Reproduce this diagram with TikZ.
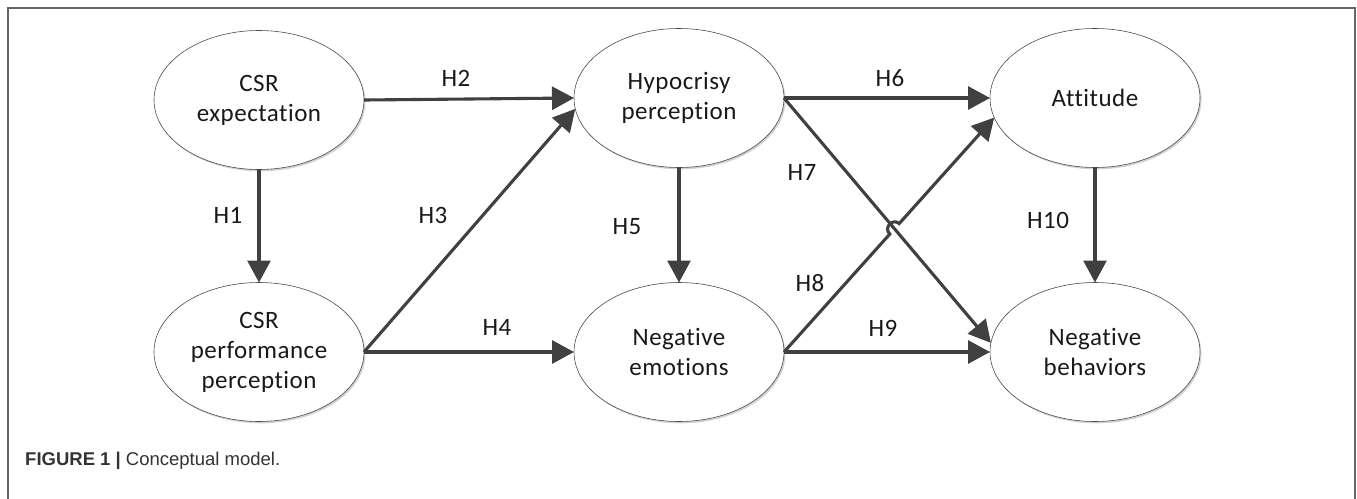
\documentclass[tikz,border=0pt]{standalone}
\usepackage{fontspec}
\setmainfont{Carlito}[Ligatures=CommonOff, LetterSpace=2]
\newfontfamily\capfont{Liberation Sans}
\usetikzlibrary{shapes.geometric,arrows.meta,calc,intersections,shadows}
\begin{document}
\begin{tikzpicture}[x=1pt,y=-1pt,
  latent/.style={ellipse, draw=black!70, line width=0.6pt, fill=white,
    minimum width=210pt, minimum height=139pt, inner sep=0pt, outer sep=0pt,
    align=center, font=\fontsize{25}{30}\selectfont, text=black!90,
    drop shadow={shadow xshift=1.5pt, shadow yshift=-1.8pt, fill=black!18, opacity=1}},
  conn/.style={draw=black!75, line width=3.1pt, -{Triangle[length=22pt,width=23pt]}},
  hlab/.style={font=\fontsize{25}{30}\selectfont, text=black!90, inner sep=0pt},
  frame/.style={draw=black!60, line width=1.3pt}]
\useasboundingbox (0,0) rectangle (1357,498);
\draw[frame] (8,500) -- (8,8) -- (1355,8) -- (1355,500);

\node[latent] (ce) at (259,100) {CSR\\expectation};
\node[latent] (cp) at (259,352) {CSR\\performance\\perception};
\node[latent] (hy) at (679,98) {Hypocrisy\\perception};
\node[latent] (ne) at (679,352) {Negative\\emotions};
\node[latent] (at) at (1095,98) {Attitude};
\node[latent] (nb) at (1095,352) {Negative\\behaviors};

\draw[conn] (ce.south) -- (cp.north);
\draw[conn] (ce.east) -- (hy.west);
\draw[conn] (cp.east) -- (hy.186);
\draw[conn] (cp.east) -- (ne.west);
\draw[conn] (hy.south) -- (ne.north);
\draw[conn] (hy.east) -- (at.west);
\draw[conn] (hy.east) -- (nb.175);
\path[name path=p7] (hy.east) -- (nb.175);
\path[name path=p8] (ne.east) -- (at.191);
\path[name intersections={of=p7 and p8, by=X}];
\coordinate (A) at ($(X)!7pt!(ne.east)$);
\coordinate (B) at ($(X)!7pt!(at.191)$);
\draw[conn] (ne.east) -- (A) .. controls ($(A)!9pt!90:(B)$) and ($(B)!9pt!-90:(A)$) .. (B) -- (at.191);
\draw[conn] (ne.east) -- (nb.west);
\draw[conn] (at.south) -- (nb.north);

\node[hlab] (l1) at (228,215) {H1};
\node[hlab] (l2) at (456,78) {H2};
\node[hlab] (l3) at (433,215) {H3};
\node[hlab] (l4) at (497,327) {H4};
\node[hlab] (l5) at (627,227) {H5};
\node[hlab] (l6) at (890,78) {H6};
\node[hlab] (l7) at (802,172) {H7};
\node[hlab] (l8) at (810,283) {H8};
\node[hlab] (l9) at (883,328) {H9};
\node[hlab] (l10) at (1048,220) {H10};

\node[anchor=base west, inner sep=0pt, font=\capfont\fontsize{18.5}{22}\selectfont, text=black!80] (cap) at (25,465) {\textbf{FIGURE 1 |} Conceptual model.};
\end{tikzpicture}
\end{document}
